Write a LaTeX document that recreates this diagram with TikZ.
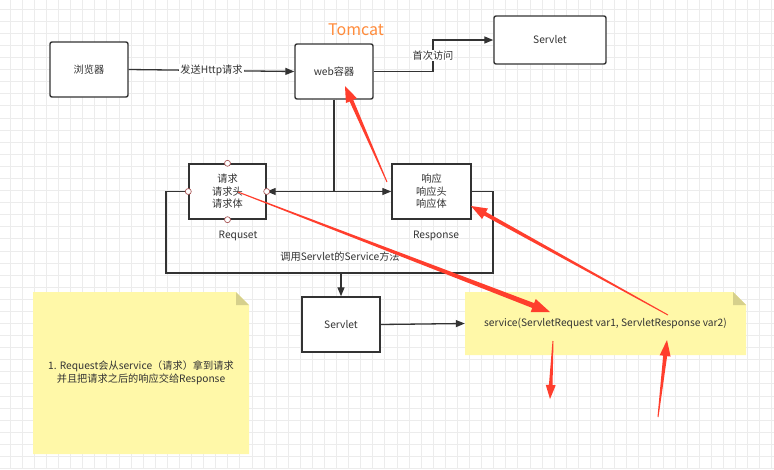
\documentclass[tikz,border=0pt]{standalone}
\usepackage{fontspec}
\setmainfont{Noto Sans CJK SC}
\usetikzlibrary{calc,arrows.meta}
\definecolor{gridc}{RGB}{236,236,236}
\definecolor{ink}{RGB}{51,51,51}
\definecolor{redc}{RGB}{255,62,45}
\definecolor{notec}{RGB}{255,248,168}
\definecolor{foldc}{RGB}{214,208,140}
\definecolor{tomc}{RGB}{255,140,60}
\definecolor{handc}{RGB}{170,90,90}
\newcommand\taperarrow[5]{%
  \coordinate (ta) at #1; \coordinate (tb) at #2;
  \coordinate (tc) at ($(tb)!#3!(ta)$);
  \fill[redc] ($(ta)!0.5pt!90:(tb)$) -- ($(tc)!#5!90:(tb)$) -- ($(tc)!#4!90:(tb)$) -- (tb)
    -- ($(tc)!#4!-90:(tb)$) -- ($(tc)!#5!-90:(tb)$) -- ($(ta)!0.5pt!-90:(tb)$) -- cycle;}
\tikzset{
  box/.style={draw=ink, line width=1.4pt, rounded corners=2pt, fill=white, text=ink,
    font=\fontsize{10.2}{12.5}\selectfont, align=center, inner sep=0pt},
  sqbox/.style={box, rounded corners=0pt},
  conn/.style={draw=ink, line width=1.3pt},
  arr/.style={conn, -{Triangle[length=9pt,width=7pt]}},
  lbl/.style={fill=white, text=ink, font=\fontsize{10.2}{12.5}\selectfont, inner sep=1pt},
  plain/.style={text=ink, font=\fontsize{10.2}{12.5}\selectfont, align=center, inner sep=0pt},
  handle/.style={circle, draw=handc, fill=white, line width=0.7pt, minimum size=6pt, inner sep=0pt},
}
\begin{document}
\begin{tikzpicture}[x=1pt,y=-1pt]
\useasboundingbox (0,0) rectangle (774,469);
\fill[white] (0,0) rectangle (774,469);
% grid
\foreach \i in {0,...,64} {
  \pgfmathsetmacro\gx{10+12.09*\i}
  \draw[gridc, line width=0.6pt] (\gx,0) -- (\gx,469);
}
\foreach \i in {0,...,39} {
  \pgfmathsetmacro\gy{9+12.09*\i}
  \draw[gridc, line width=0.6pt] (0,\gy) -- (774,\gy);
}
% notes (shapes first, then text)
\coordinate (lnw) at (33,292); \coordinate (lse) at (249,454);
\coordinate (snw) at (465,292); \coordinate (sse) at (746,355);
\fill[notec] (lnw) -- (236,292) -- (249,305) -- (lse) -- (33,454) -- cycle;
\fill[foldc] (236,292) -- (249,305) -- (236,305) -- cycle;
\fill[notec] (snw) -- (733,292) -- (746,305) -- (sse) -- (465,355) -- cycle;
\fill[foldc] (733,292) -- (746,305) -- (733,305) -- cycle;
\node[plain, minimum width=216pt, minimum height=162pt] (lnote) at (141,373)
  {1. Request会从service（请求）拿到请求\\并且把请求之后的响应交给Response};
\node[plain, minimum width=281pt, minimum height=63pt] (snote) at (605.5,323.5)
  {service(ServletRequest var1, ServletResponse var2)};
% boxes
\node[box, minimum width=78pt, minimum height=55pt] (browser) at (89,69.5) {浏览器};
\node[box, minimum width=78pt, minimum height=55pt] (web) at (334,71.5) {web容器};
\node[box, minimum width=112pt, minimum height=48pt] (s1) at (550,40) {Servlet};
\node[text=tomc, font=\fontsize{16}{18}\selectfont, inner sep=0pt] (tomcat) at (356,30) {Tomcat};
\node[sqbox, minimum width=77pt, minimum height=55pt] (req) at (227.5,191.5) {请求\\请求头\\请求体};
\node[sqbox, minimum width=79pt, minimum height=55pt] (resp) at (431.5,191.5) {响应\\响应头\\响应体};
\node[plain] (reqlbl) at (238,236) {Requset};
\node[plain] (resplbl) at (436,236) {Response};
\node[sqbox, minimum width=78pt, minimum height=55pt] (s2) at (341,324.5) {Servlet};
% connectors
\draw[arr] (browser.east) -- node[lbl, pos=0.5]{发送Http请求} (web.west);
\coordinate (t1) at (433,71.5);
\draw[arr] (web.east) -- (t1) |- node[lbl, pos=0.25]{首次访问} (s1.west);
\coordinate (j) at (334,191.5);
\draw[conn] (web.south) -- (j);
\draw[conn, {Triangle[length=9pt,width=7pt]}-{Triangle[length=9pt,width=7pt]}] (req.east) -- (resp.west);
\coordinate (fbl) at (166,273);
\coordinate (fbr) at (493,273);
\coordinate (fm) at (341,273);
\draw[conn] (req.west) -| (fbl) -- (fbr) -- (fbr |- resp.east) -- (resp.east);
\node[plain] (calllbl) at (340,257) {调用Servlet的Service方法};
\draw[arr] (fm) -- (s2.north);
\draw[arr] (s2.east) -- (snote.west);
% handles
\foreach \a in {north,south,west,east} \node[handle] at (req.\a) {};
% red annotation arrows
\taperarrow{(387,182)}{(345,86)}{16pt}{6pt}{2pt}
\taperarrow{(238,192)}{(550,312)}{18pt}{7pt}{2.6pt}
\taperarrow{(668,315)}{(471,206)}{16pt}{6pt}{2pt}
\taperarrow{(553,341)}{(550,399)}{14pt}{5pt}{1.8pt}
\taperarrow{(658,417)}{(667,340)}{16pt}{5.5pt}{2pt}
\end{tikzpicture}
\end{document}
